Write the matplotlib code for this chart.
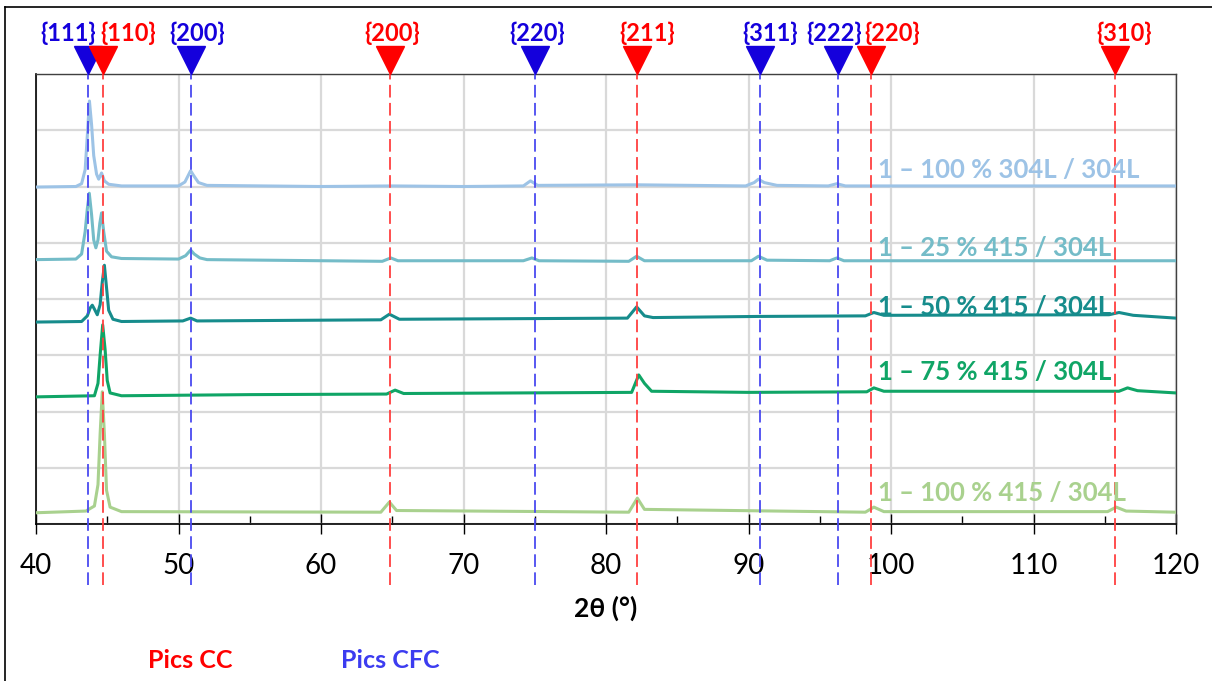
import matplotlib
matplotlib.use("Agg")
import matplotlib.pyplot as plt
from matplotlib.lines import Line2D
from matplotlib.ticker import MultipleLocator

plt.rcParams['font.family'] = ['Lato', 'DejaVu Sans']

# ==========================
# DATA
# ==========================

labels = ["1 – 100 % 304L / 304L", "1 – 25 % 415 / 304L", "1 – 50 % 415 / 304L",
          "1 – 75 % 415 / 304L", "1 – 100 % 415 / 304L"]

x_304 = [40, 42.8, 43.2, 43.45, 43.6, 43.75, 43.9, 44.05, 44.25, 44.4, 44.6, 44.8, 45.1, 46,
         50.0, 50.45, 50.85, 51.05, 51.4, 52, 60, 65, 70, 74.2, 74.7, 75.2, 82.2,
         89.8, 90.4, 90.7, 91.1, 92, 95.6, 96.2, 96.8, 110, 120]
y_304 = [5.99, 6.0, 6.05, 6.3, 6.9, 7.52, 7.1, 6.55, 6.22, 6.13, 6.24, 6.1, 6.04, 6.01,
         6.01, 6.08, 6.28, 6.2, 6.07, 6.02, 6.0, 6.01, 6.0, 6.01, 6.1, 6.02, 6.03,
         6.01, 6.07, 6.13, 6.07, 6.02, 6.01, 6.05, 6.01, 6.01, 6.01]

x_25 = [40, 42.8, 43.2, 43.45, 43.6, 43.74, 43.9, 44.05, 44.2, 44.35, 44.48, 44.6, 44.75, 44.95,
        45.3, 46, 50.0, 50.5, 50.85, 51.1, 51.5, 52, 64.3, 64.9, 65.4, 74.2, 74.8, 75.3,
        81.6, 82.15, 82.7, 90.2, 90.7, 91.3, 95.7, 96.2, 96.7, 120]
y_25 = [4.7, 4.71, 4.8, 5.2, 5.6, 5.88, 5.5, 5.05, 4.91, 5.05, 5.35, 5.53, 5.2, 4.85,
        4.75, 4.72, 4.71, 4.77, 4.87, 4.8, 4.73, 4.7, 4.67, 4.73, 4.68, 4.68, 4.73, 4.68,
        4.67, 4.76, 4.68, 4.68, 4.76, 4.69, 4.68, 4.73, 4.68, 4.68]

x_50 = [40, 43.2, 43.6, 43.8, 43.95, 44.1, 44.3, 44.5, 44.65, 44.8, 44.95, 45.1, 45.4, 46,
        50.3, 50.85, 51.3, 64.2, 64.8, 65.5, 81.5, 82.15, 82.7, 83.3, 90.7,
        98.2, 98.8, 99.5, 115.3, 116.0, 117, 120]
y_50 = [3.59, 3.6, 3.7, 3.84, 3.89, 3.82, 3.72, 3.9, 4.3, 4.6, 4.2, 3.8, 3.64, 3.6,
        3.61, 3.66, 3.61, 3.63, 3.73, 3.64, 3.66, 3.86, 3.7, 3.67, 3.69,
        3.7, 3.76, 3.71, 3.72, 3.76, 3.71, 3.66]

x_75 = [40, 44.1, 44.35, 44.5, 44.68, 44.85, 45.0, 45.2, 46, 55, 64.6, 65.2, 65.8,
        81.8, 82.3, 82.7, 83.2, 90, 98.3, 98.8, 99.5, 116, 116.6, 117.3, 120]
y_75 = [2.26, 2.28, 2.5, 3.0, 3.54, 3.1, 2.55, 2.33, 2.28, 2.3, 2.31, 2.38, 2.32,
        2.34, 2.65, 2.5, 2.36, 2.34, 2.35, 2.42, 2.36, 2.36, 2.42, 2.37, 2.33]

x_415 = [40, 43.5, 44.1, 44.35, 44.5, 44.65, 44.8, 44.95, 45.2, 46, 64.2, 64.8, 65.3,
         81.6, 82.2, 82.7, 98.2, 98.8, 99.5, 115.2, 115.8, 116.5, 120]
y_415 = [0.2, 0.23, 0.32, 0.7, 1.6, 2.35, 1.6, 0.6, 0.3, 0.22, 0.21, 0.39, 0.24,
         0.21, 0.46, 0.26, 0.21, 0.3, 0.22, 0.22, 0.3, 0.23, 0.21]

# reference peaks
cfc_hkl = ["{111}", "{200}", "{220}", "{311}", "{222}"]
cfc_pos = [43.63, 50.9, 75.0, 90.8, 96.25]
cc_hkl = ["{110}", "{200}", "{211}", "{220}", "{310}"]
cc_pos = [44.72, 64.85, 82.15, 98.6, 115.7]

# ==========================
# STYLE / LAYOUT
# ==========================

colors = ["#9DC3E6", "#74BCC8", "#168C8C", "#10A566", "#A9D18E"]
label_y = [6.29, 4.91, 3.86, 2.70, 0.55]
cfc_label_shift = [-1.4, 0.4, 0.2, 0.7, -0.25]
cc_label_shift = [1.75, 0.15, 0.75, 1.5, 0.65]
blue_line = "#4A4AF0"
red_line = "#FF4040"
blue_mark = "#1400DC"
red_mark = "#FF0000"

fig = plt.figure(figsize=(12.12, 6.81), dpi=100)
ax = fig.add_axes([36 / 1212, 1 - 524 / 681, 1140 / 1212, 450 / 681])

series_x = [x_304, x_25, x_50, x_75, x_415]
series_y = [y_304, y_25, y_50, y_75, y_415]

for i in range(4, -1, -1):
    ax.plot(series_x[i], series_y[i], color=colors[i], lw=2.2,
            solid_joinstyle="round", zorder=3 + (4 - i) * 0.1)

for i in range(5):
    ax.text(99.1, label_y[i], labels[i], color=colors[i], fontsize=18.5,
            fontweight="bold", va="center", ha="left", zorder=5)

ax.set_xlim(40, 120)
ax.set_ylim(0, 8)

ax.xaxis.set_major_locator(MultipleLocator(10))
ax.xaxis.set_minor_locator(MultipleLocator(5))
ax.yaxis.set_major_locator(MultipleLocator(1))
ax.set_yticklabels([])
ax.tick_params(axis="y", length=0)
ax.tick_params(axis="x", which="major", direction="inout", length=14, width=1,
               labelsize=20, pad=14)
ax.tick_params(axis="x", which="minor", direction="in", length=6, width=1)

ax.grid(True, which="major", color="#D9D9D9", lw=1.6, zorder=0)
ax.set_axisbelow(True)

for side in ["left", "bottom"]:
    ax.spines[side].set_color("black")
    ax.spines[side].set_linewidth(1.2)
for side in ["top", "right"]:
    ax.spines[side].set_color("#404040")
    ax.spines[side].set_linewidth(1.0)

ax.set_xlabel("2θ (°)", fontsize=19, fontweight="bold", labelpad=12)

# reference lines, triangles and labels
tri_y = 8 + 14 / 56.25
text_y = 8 + 41 / 56.25
line_bottom = -61 / 56.25

for pos, hkl, sh in zip(cfc_pos, cfc_hkl, cfc_label_shift):
    ax.plot([pos, pos], [line_bottom, 8], color=blue_line, lw=1.3,
            dashes=(7, 3), clip_on=False, zorder=4)
    ax.plot(pos, tri_y, marker="v", markersize=20, color=blue_mark,
            clip_on=False, zorder=6)
    ax.text(pos + sh, text_y, hkl, color=blue_mark, fontsize=17,
            fontweight="bold", ha="center", va="center")

for pos, hkl, sh in zip(cc_pos, cc_hkl, cc_label_shift):
    ax.plot([pos, pos], [line_bottom, 8], color=red_line, lw=1.3,
            dashes=(7, 3), clip_on=False, zorder=4)
    ax.plot(pos, tri_y, marker="v", markersize=20, color=red_mark,
            clip_on=False, zorder=6)
    ax.text(pos + sh, text_y, hkl, color=red_mark, fontsize=17,
            fontweight="bold", ha="center", va="center")

fig.text(190 / 1212, 1 - 660 / 681, "Pics CC", color=red_mark, fontsize=18,
         fontweight="bold", ha="center", va="center")
fig.text(390 / 1212, 1 - 660 / 681, "Pics CFC", color="#3C3CF0", fontsize=18,
         fontweight="bold", ha="center", va="center")

# outer frame
fig.add_artist(Line2D([5 / 1212, 5 / 1212], [0, 1 - 7 / 681], color="black", lw=1.2))
fig.add_artist(Line2D([5 / 1212, 1], [1 - 7 / 681, 1 - 7 / 681], color="black", lw=1.2))

fig.savefig("out.png", dpi=100)
